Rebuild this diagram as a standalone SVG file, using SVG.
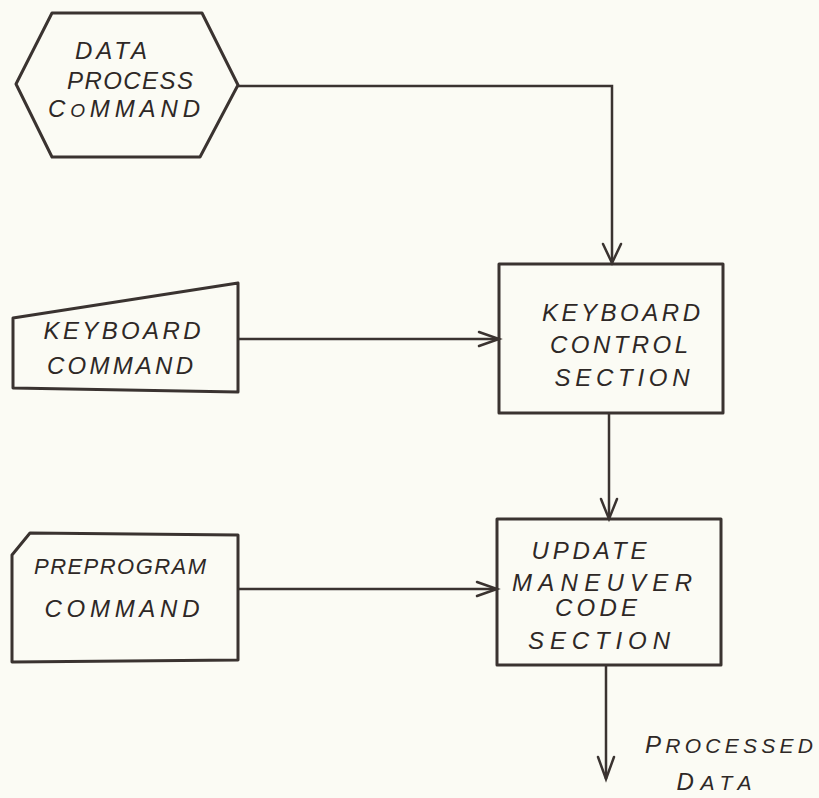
<svg xmlns="http://www.w3.org/2000/svg" width="819" height="798" viewBox="0 0 819 798">
  <defs>
    <style>
      .shape { fill: none; stroke: #3a3330; stroke-width: 3; stroke-linejoin: round; }
      .wire { fill: none; stroke: #3a3330; stroke-width: 2.5; }
      .head { fill: none; stroke: #3a3330; stroke-width: 2.5; stroke-linecap: round; }
      .lbl { font-family: "Liberation Sans", Arial, sans-serif; font-style: italic; font-size: 24px; fill: #2e2826; text-anchor: middle; }
      .sm { font-size: 19px; }
      .md { font-size: 21px; }
      .pp { font-size: 22px; }
    </style>
  </defs>
  <rect width="819" height="798" fill="#fbfbf4"/>

  <!-- input: data process command (hexagon) -->
  <g id="data-process-command">
    <polygon class="shape" points="16,84 52,13 202,13 238,85 200,157 52,157"/>
    <text class="lbl" x="111" y="59" textLength="72" lengthAdjust="spacing">DATA</text>
    <text class="lbl" x="130" y="89" textLength="126" lengthAdjust="spacing">PROCESS</text>
    <text class="lbl" x="124" y="117" textLength="152" lengthAdjust="spacing">C<tspan class="sm">O</tspan>MMAND</text>
  </g>

  <!-- input: keyboard command (manual input) -->
  <g id="keyboard-command">
    <polygon class="shape" points="13,318 238,283 238,392 13,388"/>
    <text class="lbl" x="122" y="339" textLength="157" lengthAdjust="spacing">KEYBOARD</text>
    <text class="lbl" x="120" y="374" textLength="146" lengthAdjust="spacing">COMMAND</text>
  </g>

  <!-- input: preprogram command (card) -->
  <g id="preprogram-command">
    <polygon class="shape" points="30,533 238,535 238,660 12,662 12,555"/>
    <text class="lbl pp" x="120" y="574" textLength="172" lengthAdjust="spacing">PREPROGRAM</text>
    <text class="lbl" x="122" y="617" textLength="155" lengthAdjust="spacing">COMMAND</text>
  </g>

  <!-- process: keyboard control section -->
  <g id="keyboard-control-section">
    <rect class="shape" x="499" y="264" width="224" height="149"/>
    <text class="lbl" x="621" y="321" textLength="158" lengthAdjust="spacing">KEYBOARD</text>
    <text class="lbl" x="619" y="353" textLength="138" lengthAdjust="spacing">CONTROL</text>
    <text class="lbl" x="622" y="386" textLength="135" lengthAdjust="spacing">SECTION</text>
  </g>

  <!-- process: update maneuver code section -->
  <g id="update-maneuver-code-section">
    <rect class="shape" x="497" y="519" width="224" height="146"/>
    <text class="lbl" x="589" y="559" textLength="115" lengthAdjust="spacing">UPDATE</text>
    <text class="lbl" x="602" y="591" textLength="180" lengthAdjust="spacing">MANEUVER</text>
    <text class="lbl" x="596" y="616" textLength="82" lengthAdjust="spacing">CODE</text>
    <text class="lbl" x="599" y="649" textLength="142" lengthAdjust="spacing">SECTION</text>
  </g>

  <!-- output label -->
  <g id="processed-data">
    <text class="lbl" x="729" y="753" textLength="168" lengthAdjust="spacing">P<tspan class="md">ROCESSED</tspan></text>
    <text class="lbl" x="714" y="790" textLength="75" lengthAdjust="spacing">D<tspan class="md">ATA</tspan></text>
  </g>

  <g id="connectors">
    <!-- data process command -> keyboard control section -->
    <polyline class="wire" points="238,86 612,86 612,264"/>
    <polyline class="head" points="603,244 612,263 621,244"/>
    <!-- keyboard command -> keyboard control section -->
    <line class="wire" x1="238" y1="339" x2="499" y2="339"/>
    <polyline class="head" points="479,332 499,339 479,346"/>
    <!-- keyboard control section -> update maneuver code section -->
    <line class="wire" x1="609" y1="413" x2="609" y2="519"/>
    <polyline class="head" points="601,499 609,519 617,499"/>
    <!-- preprogram command -> update maneuver code section -->
    <line class="wire" x1="238" y1="589" x2="497" y2="589"/>
    <polyline class="head" points="477,582 497,589 477,596"/>
    <!-- update maneuver code section -> processed data -->
    <line class="wire" x1="606" y1="665" x2="606" y2="779"/>
    <polyline class="head" points="598,757 606,779 614,757"/>
  </g>
</svg>
